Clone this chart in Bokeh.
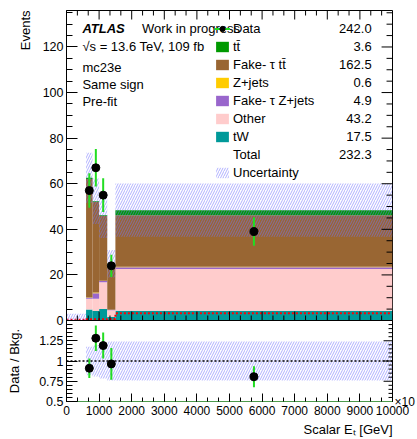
import numpy as np
from bokeh.plotting import figure
from bokeh.models import (ColumnDataSource, Range1d, Label, Legend, LegendItem, LinearAxis,
                          SingleIntervalTicker, FixedTicker, Span, Title)
from bokeh.layouts import column
from bokeh.embed import file_html
from bokeh.resources import INLINE

# ---------------- data ----------------
bin_edges        = [0, 600, 800, 1000, 1250, 1500, 10000]
tw_yield         = [0.0, 4.8, 4.2, 5.0, 1.5, 4.3]
other_yield      = [0.0, 4.7, 5.3, 11.8, 3.0, 18.3]
fake_zjets_yield = [0.0, 0.5, 2.5, 0.5, 0.2, 0.8]
zjets_yield      = [0.0, 0.1, 0.3, 0.1, 0.0, 0.2]
fake_tt_yield    = [0.0, 52.0, 39.7, 28.5, 20.0, 22.6]
tt_yield         = [0.0, 0.5, 0.3, 0.3, 0.2, 2.2]
bkg_uncert       = [3.0, 11.0, 10.0, 10.0, 6.0, 11.7]
signal_yield     = [0.3, 0.5, 0.5, 0.5, 0.7, 3.2]
data_counts      = [0, 57, 67, 55, 24, 39]

legend_names  = ["Data", "tt\u0304", "Fake- \u03c4 tt\u0304", "Z+jets", "Fake- \u03c4 Z+jets",
                 "Other", "tW", "Total", "Uncertainty"]
legend_values = ["242.0", "3.6", "162.5", "0.6", "4.9", "43.2", "17.5", "232.3", ""]
info_lines    = ["\u221as = 13.6 TeV, 109 fb", "mc23e", "Same sign", "Pre-fit"]
ratio_tick_labels = {0.5: "0.5", 0.75: "0.75", 1.0: "1", 1.25: "1.25", 1.5: ""}
x_title = "Scalar E\u209c [GeV]"

# ---------------- styling ----------------
FONT = "Liberation Sans"
C_TW, C_OTHER, C_FZJ, C_ZJ, C_FTT, C_TT = "#009999", "#ffcccc", "#9966cc", "#ffcc00", "#996633", "#009900"
C_ERR = "#22dd22"
HATCH = dict(fill_alpha=0, line_alpha=0, hatch_pattern="/", hatch_color="#7070ff",
             hatch_alpha=0.55, hatch_scale=5, hatch_weight=1)

X0, X1 = 0, 10000
Y0, Y1 = 0, 136
R0, R1 = 0.5, 1.5
W, L, R = 417, 66, 23
FL, FW = L, W - L - R     # frame left / width (page px, body margin is 0)
FT, FH = 10, 310          # main frame top / height
RH = 81                   # ratio frame height
OVL = 7                   # main's bottom border overlapped by the ratio panel
DX = (X1 - X0) / FW       # data units per px
DY = (Y1 - Y0) / FH
DR = (R1 - R0) / RH


def mx(px):
    return X0 + (px - FL) * DX


def my(py):
    return Y1 - (py - FT) * DY


def style_axis(ax, tick_in, minor_in, size="12.5px", color="black"):
    ax.axis_line_color = color
    ax.major_tick_in = tick_in
    ax.major_tick_out = 0
    ax.minor_tick_in = minor_in
    ax.minor_tick_out = 0
    ax.major_tick_line_color = "black"
    ax.minor_tick_line_color = "black"
    ax.major_label_text_font = FONT
    ax.major_label_text_color = "black"
    ax.major_label_text_font_size = size
    ax.major_label_standoff = 3


def txt(text, **kw):
    base = dict(text_font=FONT, text_font_size="13px", text_color="black", text_baseline="middle")
    base.update(kw)
    return Label(text=text, **base)


def edge_ticks(fig, positions, major_every, fixed, length_major, length_minor, horizontal_edge):
    """Inside tick marks along a frame edge (decoration only)."""
    pos = np.asarray(positions, dtype=float)
    m = np.mod(pos + 1e-9, major_every)
    is_major = np.isclose(m, 0, atol=1e-6) | np.isclose(m, major_every, atol=1e-6)
    ln = np.where(is_major, length_major, length_minor)
    if horizontal_edge:
        fig.segment(x0=pos, x1=pos, y0=np.full_like(pos, fixed), y1=fixed + ln,
                    line_color="black", line_width=1)
    else:
        fig.segment(x0=np.full_like(pos, fixed), x1=fixed + ln, y0=pos, y1=pos,
                    line_color="black", line_width=1)


lo = np.array(bin_edges[:-1], dtype=float)
hi = np.array(bin_edges[1:], dtype=float)
centers = 0.5 * (lo + hi)

components = [
    ("tW", tw_yield, C_TW),
    ("Other", other_yield, C_OTHER),
    ("Fake- \u03c4 Z+jets", fake_zjets_yield, C_FZJ),
    ("Z+jets", zjets_yield, C_ZJ),
    ("Fake- \u03c4 tt\u0304", fake_tt_yield, C_FTT),
    ("tt\u0304", tt_yield, C_TT),
]

# ---------------- main panel ----------------
main = figure(width=W, height=FT + FH + OVL, x_range=Range1d(X0, X1), y_range=Range1d(Y0, Y1),
              output_backend="svg", toolbar_location=None,
              min_border_left=L, min_border_right=R, min_border_top=FT, min_border_bottom=OVL)
main.xgrid.visible = False
main.ygrid.visible = False
main.outline_line_color = "black"
main.xaxis.visible = False

renderers = {}
bottom = np.zeros(len(lo))
for name, vals, col in components:
    v = np.array(vals, dtype=float)
    src = ColumnDataSource(dict(left=lo, right=hi, bottom=bottom.copy(), top=bottom + v))
    renderers[name] = main.quad(left="left", right="right", bottom="bottom", top="top",
                                source=src, fill_color=col, line_color=None)
    bottom = bottom + v
total = bottom

sig_y = list(signal_yield) + [signal_yield[-1]]
main.step(x=bin_edges, y=sig_y, mode="after", line_color="#ff0000", line_dash="2 2", line_width=2)

unc = np.array(bkg_uncert, dtype=float)
unc_src = ColumnDataSource(dict(left=lo, right=hi, bottom=np.maximum(total - unc, 0), top=total + unc))
unc_r = main.quad(left="left", right="right", bottom="bottom", top="top", source=unc_src, **HATCH)

xt = np.arange(0, X1 + 1, 1000 / 3)
edge_ticks(main, xt, 1000, Y0, 9 * DY, 5 * DY, True)
edge_ticks(main, xt, 1000, Y1, -9 * DY, -5 * DY, True)
edge_ticks(main, np.arange(0, Y1, 5), 20, X1, -11 * DX, -6 * DX, False)

dc = np.array(data_counts, dtype=float)
has = dc > 0
dsrc = ColumnDataSource(dict(x=centers[has], y=dc[has], lo=dc[has] - np.sqrt(dc[has]),
                             hi=dc[has] + np.sqrt(dc[has])))
err_r = main.segment(x0="x", x1="x", y0="lo", y1="hi", source=dsrc, line_color=C_ERR, line_width=2)
pt_r = main.scatter(x="x", y="y", source=dsrc, size=8, color="black")

total_r = main.quad(left=[], right=[], bottom=[], top=[], fill_alpha=0, line_alpha=0)

style_axis(main.yaxis[0], 11, 6)
main.yaxis[0].ticker = SingleIntervalTicker(interval=20, num_minor_ticks=4)
main.add_layout(Title(text="Events", align="right", standoff=14, text_font=FONT,
                      text_font_size="13px", text_font_style="normal", text_color="black"), "left")

items = [LegendItem(label=legend_names[0], renderers=[err_r, pt_r])]
for nm in legend_names[1:7]:
    items.append(LegendItem(label=nm, renderers=[renderers[nm]]))
items.append(LegendItem(label=legend_names[7], renderers=[total_r]))
items.append(LegendItem(label=legend_names[8], renderers=[unc_r]))
leg = Legend(items=items, location=(148, 139), padding=0, margin=0, spacing=0,
             label_height=18, glyph_height=13, glyph_width=16, label_standoff=3,
             label_text_font=FONT, label_text_font_size="13px", label_text_color="black",
             background_fill_alpha=0, border_line_alpha=0)
main.add_layout(leg, "center")

for i, v in enumerate(legend_values):
    if v:
        main.add_layout(txt(v, x=mx(373), y=my(28 + 18 * i), text_align="right"))

main.add_layout(txt("ATLAS", x=mx(82), y=my(28), text_font_style="bold italic"))
main.add_layout(txt("Work in progress", x=mx(142), y=my(28)))
for py, t in zip([45.5, 66.5, 83.5, 100.5], info_lines):
    main.add_layout(txt(t, x=mx(82), y=my(py)))

# ---------------- ratio panel ----------------
ratio = figure(width=W, height=119, x_range=Range1d(X0, X1), y_range=Range1d(R0, R1),
               output_backend="svg", toolbar_location=None,
               min_border_left=L, min_border_right=R, min_border_top=0, min_border_bottom=38,
               border_fill_alpha=0, styles={"margin-top": f"-{OVL}px"})
ratio.xgrid.visible = False
ratio.ygrid.visible = False
ratio.outline_line_color = "black"

ok = total > 1
rel = unc / np.where(ok, total, 1)
rsrc = ColumnDataSource(dict(left=lo[ok], right=hi[ok], bottom=1 - rel[ok], top=1 + rel[ok]))
ratio.quad(left="left", right="right", bottom="bottom", top="top", source=rsrc, **HATCH)
ratio.add_layout(Span(location=1.0, dimension="width", line_color="black", line_dash="2 2",
                      line_width=1.5))
edge_ticks(ratio, np.arange(R0, R1 + 1e-9, 0.05), 0.25, X1, -9 * DX, -4 * DX, False)

rmask = has & ok
rr = dc[rmask] / total[rmask]
re = np.sqrt(dc[rmask]) / total[rmask]
rdsrc = ColumnDataSource(dict(x=centers[rmask], y=rr, lo=rr - re, hi=rr + re))
ratio.segment(x0="x", x1="x", y0="lo", y1="hi", source=rdsrc, line_color=C_ERR, line_width=2)
ratio.scatter(x="x", y="y", source=rdsrc, size=8, color="black")

style_axis(ratio.xaxis[0], 8, 4, size="12px", color="#4c9a4c")
ratio.xaxis[0].ticker = SingleIntervalTicker(interval=1000, num_minor_ticks=3)
ratio.xaxis[0].major_label_standoff = 4
style_axis(ratio.yaxis[0], 11, 6, size="12.5px")
ratio.yaxis[0].ticker = SingleIntervalTicker(interval=0.25, num_minor_ticks=5)
ratio.yaxis[0].major_label_overrides = ratio_tick_labels
ratio.yaxis[0].axis_label = "Data / Bkg."
ratio.yaxis[0].axis_label_standoff = 14
ratio.yaxis[0].axis_label_text_font = FONT
ratio.yaxis[0].axis_label_text_font_size = "13px"
ratio.yaxis[0].axis_label_text_font_style = "normal"
ratio.yaxis[0].axis_label_text_color = "black"

ax_exp = LinearAxis(ticker=FixedTicker(ticks=[R0]), major_label_overrides={R0: "\u00d710"})
style_axis(ax_exp, 0, 0, size="12px")
ax_exp.major_label_standoff = 2
ratio.add_layout(ax_exp, "right")

ratio.add_layout(Title(text=x_title, align="right", standoff=5, text_font=FONT,
                       text_font_size="13px", text_font_style="normal", text_color="black"), "below")

layout = column(main, ratio, spacing=0)
open("out.html", "w").write(file_html(layout, INLINE))
